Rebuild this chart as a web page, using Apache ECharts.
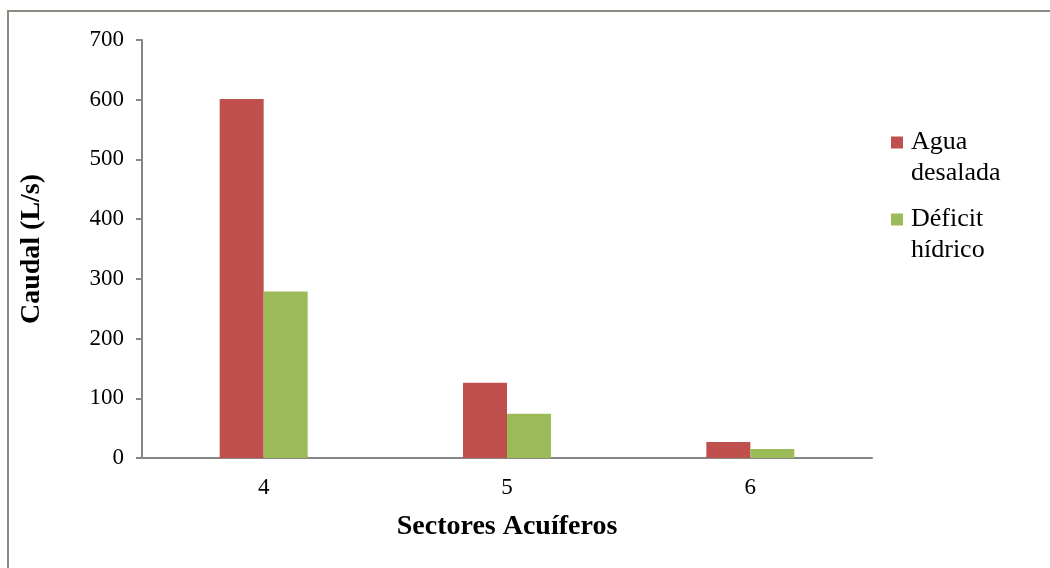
<!DOCTYPE html>
<html>
<head>
<meta charset="utf-8">
<script src="https://cdn.jsdelivr.net/npm/echarts@6/dist/echarts.min.js"></script>
<style>
  html, body { margin: 0; padding: 0; background: #ffffff; }
  #chart { width: 1050px; height: 568px; }
</style>
</head>
<body>
<div id="chart"></div>
<script>
// Sectores acuíferos and flows (L/s)
const sectores = ['4', '5', '6'];
const aguaDesalada = [601, 126, 27];
const deficitHidrico = [279, 74, 15];
const yTicks = [0, 100, 200, 300, 400, 500, 600, 700];

const serif = '"Liberation Serif", "DejaVu Serif", serif';
const axisGray = '#868686';

const chart = echarts.init(document.getElementById('chart'), null, { renderer: 'canvas' });

chart.setOption({
  backgroundColor: '#ffffff',
  animation: false,
  grid: { left: 142, right: 178, top: 40, bottom: 110, containLabel: false },
  legend: {
    orient: 'vertical',
    left: 886,
    top: 91,
    itemWidth: 12,
    itemHeight: 12,
    itemGap: -16,
    icon: 'rect',
    selectedMode: false,
    data: ['Agua desalada', 'Déficit hídrico'],
    // blank first line keeps the marker level with the first word
    formatter: function (name) { return ' \n' + name.replace(' ', '\n'); },
    textStyle: {
      fontFamily: serif,
      fontSize: 26,
      lineHeight: 31,
      color: '#000000',
      padding: [0, 0, 0, 3]
    }
  },
  xAxis: {
    type: 'category',
    data: sectores,
    name: 'Sectores Acuíferos',
    nameLocation: 'middle',
    nameGap: 55,
    nameTextStyle: { fontFamily: serif, fontSize: 28, fontWeight: 'bold', color: '#000' },
    axisLine: { lineStyle: { color: axisGray, width: 2 } },
    axisTick: { show: false },
    axisLabel: { fontFamily: serif, fontSize: 23, color: '#000', margin: 18 }
  },
  yAxis: {
    type: 'value',
    min: yTicks[0],
    max: yTicks[yTicks.length - 1],
    interval: 100,
    name: 'Caudal (L/s)',
    nameLocation: 'middle',
    nameGap: 96,
    nameRotate: 90,
    nameTextStyle: { fontFamily: serif, fontSize: 28, fontWeight: 'bold', color: '#000' },
    axisLine: { show: true, lineStyle: { color: axisGray, width: 2 } },
    axisTick: { show: true, length: 6, lineStyle: { color: axisGray, width: 2 } },
    splitLine: { show: false },
    axisLabel: { fontFamily: serif, fontSize: 23, color: '#000', margin: 18 }
  },
  series: [
    {
      name: 'Agua desalada',
      type: 'bar',
      data: aguaDesalada,
      itemStyle: { color: '#C0504D' },
      barWidth: 44,
      barGap: '0%'
    },
    {
      name: 'Déficit hídrico',
      type: 'bar',
      data: deficitHidrico,
      itemStyle: { color: '#9BBB59' },
      barWidth: 44,
      barGap: '0%'
    }
  ],
  graphic: [
    {
      type: 'line',
      shape: { x1: 8, y1: 11, x2: 1050, y2: 11 },
      style: { stroke: '#8a8a80', lineWidth: 2 },
      silent: true
    },
    {
      type: 'line',
      shape: { x1: 8, y1: 10, x2: 8, y2: 568 },
      style: { stroke: '#8a8a80', lineWidth: 2 },
      silent: true
    }
  ]
});
</script>
</body>
</html>
